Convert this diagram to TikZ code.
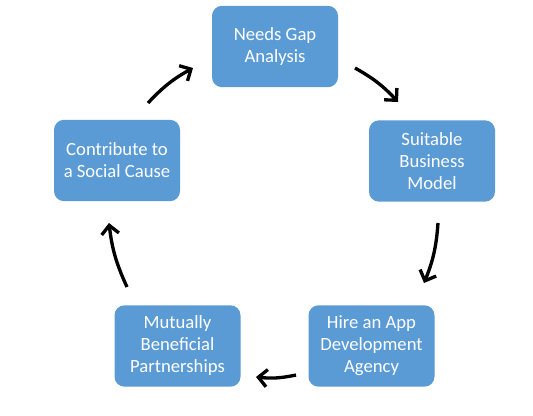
\documentclass[tikz,border=0pt]{standalone}
\usepackage{fontspec}
\setmainfont{Carlito}
\usetikzlibrary{arrows.meta}
\definecolor{boxblue}{HTML}{5B9BD5}
\tikzset{
  stepbox/.style={fill=boxblue, rounded corners=7.5pt, minimum width=94.5pt, minimum height=61pt,
    text=white, align=center, inner sep=2pt, font=\fontsize{14}{16.5}\selectfont},
  cyclearrow/.style={line width=2.5pt, -{Straight Barb[length=6.5pt,width=13pt,line width=2.5pt]}, bend left=9}
}
\begin{document}
\begin{tikzpicture}[x=0.75pt,y=0.75pt]
\useasboundingbox (0,0) rectangle (533,-415);
\fill[white] (0,0) rectangle (533,-415);
\node[stepbox] (gap) at (275,-46.5) {Needs Gap\\Analysis};
\node[stepbox] (model) at (432,-161) {Suitable\\Business\\Model};
\node[stepbox] (hire) at (371.5,-346) {Hire an App\\Development\\Agency};
\node[stepbox] (mutual) at (177.5,-346) {Mutually\\Beneficial\\Partnerships};
\node[stepbox] (cause) at (117,-160.5) {Contribute to\\a Social Cause};
\coordinate (a1s) at (355,-68);
\coordinate (a1e) at (398,-102);
\coordinate (a2s) at (438,-223);
\coordinate (a2e) at (424,-283);
\coordinate (a3s) at (296,-375);
\coordinate (a3e) at (256,-377);
\coordinate (a4s) at (127,-287);
\coordinate (a4e) at (109,-223);
\coordinate (a5s) at (148,-103);
\coordinate (a5e) at (193,-68);
\draw[cyclearrow] (a1s) to (a1e);
\draw[cyclearrow] (a2s) to (a2e);
\draw[cyclearrow] (a3s) to (a3e);
\draw[cyclearrow] (a4s) to (a4e);
\draw[cyclearrow] (a5s) to (a5e);
\end{tikzpicture}
\end{document}
